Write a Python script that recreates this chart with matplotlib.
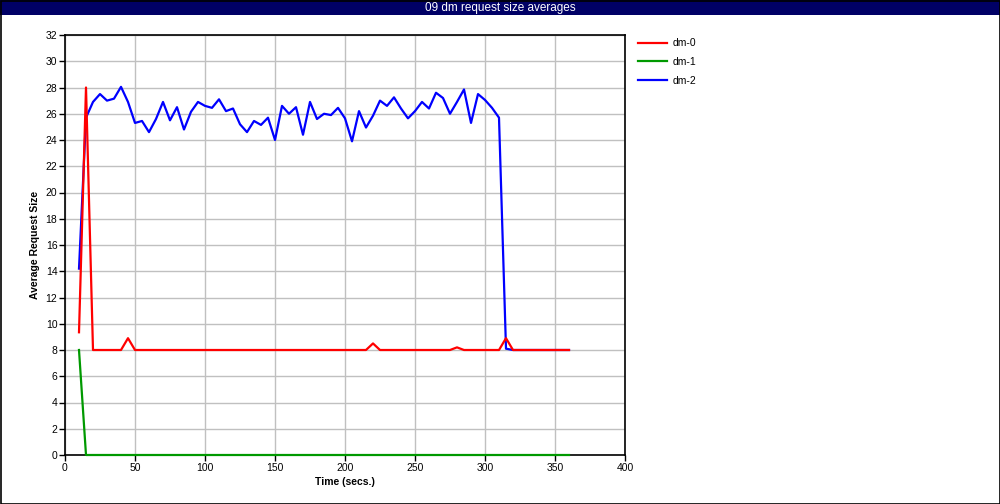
import matplotlib
matplotlib.use('Agg')
import matplotlib.pyplot as plt
from matplotlib.patches import Rectangle
import numpy as np

title = '09 dm request size averages'
names = ['dm-0', 'dm-1', 'dm-2']
colors = ['#ff0000', '#009900', '#0000ff']

# sample times (secs.)
times = np.arange(10, 365, 5)

dm0 = [9.35, 28.0, 8.0, 8.0, 8.0, 8.0, 8.0, 8.9, 8.0, 8.0,
       8.0, 8.0, 8.0, 8.0, 8.0, 8.0, 8.0, 8.0, 8.0, 8.0,
       8.0, 8.0, 8.0, 8.0, 8.0, 8.0, 8.0, 8.0, 8.0, 8.0,
       8.0, 8.0, 8.0, 8.0, 8.0, 8.0, 8.0, 8.0, 8.0, 8.0,
       8.0, 8.0, 8.5, 8.0, 8.0, 8.0, 8.0, 8.0, 8.0, 8.0,
       8.0, 8.0, 8.0, 8.0, 8.2, 8.0, 8.0, 8.0, 8.0, 8.0,
       8.0, 8.9, 8.0, 8.0, 8.0, 8.0, 8.0, 8.0, 8.0, 8.0,
       8.0]
dm1 = [8.0, 0.0, 0.0, 0.0, 0.0, 0.0, 0.0, 0.0, 0.0, 0.0,
       0.0, 0.0, 0.0, 0.0, 0.0, 0.0, 0.0, 0.0, 0.0, 0.0,
       0.0, 0.0, 0.0, 0.0, 0.0, 0.0, 0.0, 0.0, 0.0, 0.0,
       0.0, 0.0, 0.0, 0.0, 0.0, 0.0, 0.0, 0.0, 0.0, 0.0,
       0.0, 0.0, 0.0, 0.0, 0.0, 0.0, 0.0, 0.0, 0.0, 0.0,
       0.0, 0.0, 0.0, 0.0, 0.0, 0.0, 0.0, 0.0, 0.0, 0.0,
       0.0, 0.0, 0.0, 0.0, 0.0, 0.0, 0.0, 0.0, 0.0, 0.0,
       0.0]
dm2 = [14.2, 25.7, 26.9, 27.5, 27.0, 27.15, 28.05, 26.9, 25.3, 25.45,
       24.6, 25.6, 26.9, 25.5, 26.5, 24.8, 26.15, 26.9, 26.6, 26.45,
       27.1, 26.2, 26.4, 25.2, 24.6, 25.45, 25.15, 25.7, 24.0, 26.6,
       26.0, 26.5, 24.4, 26.9, 25.6, 26.0, 25.9, 26.45, 25.65, 23.9,
       26.2, 24.95, 25.85, 27.0, 26.6, 27.25, 26.4, 25.65, 26.2, 26.9,
       26.4, 27.6, 27.2, 26.0, 26.9, 27.85, 25.3, 27.5, 27.05, 26.45,
       25.7, 8.1, 8.0, 8.0, 8.0, 8.0, 8.0, 8.0, 8.0, 8.0,
       8.0]

xticks = np.arange(0, 401, 50)
yticks = np.arange(0, 33, 2)

plt.rcParams['font.family'] = ['Liberation Sans', 'DejaVu Sans']

W, H = 1000, 504
fig = plt.figure(figsize=(W / 100, H / 100), dpi=100)

# title bar and outer frame
fig.patches.append(Rectangle((0, 1 - 15 / H), 1, 15 / H, transform=fig.transFigure,
                             facecolor='#000066', edgecolor='none', zorder=0))
fig.patches.append(Rectangle((0.5 / W, 0.5 / H), 1 - 1 / W, 1 - 1 / H, transform=fig.transFigure,
                             facecolor='none', edgecolor='black', linewidth=1.2, zorder=5))
fig.text(0.5, 1 - 7.5 / H, title, color='white', ha='center', va='center', fontsize=8.5)

ax = fig.add_axes([65 / W, (H - 455) / H, 560 / W, 420 / H])
series = [dm0, dm1, dm2]
zs = [4, 3, 2]
handles = []
for vals, name, c, z in zip(series, names, colors, zs):
    ln, = ax.plot(times, vals, color=c, linewidth=1.6, label=name, zorder=z, clip_on=False)
    handles.append(ln)

ax.set_xlim(0, 400)
ax.set_ylim(0, 32)
ax.set_xticks(xticks)
ax.set_yticks(yticks)
ax.grid(True, color='#c0c0c0', linewidth=1.0)
ax.set_axisbelow(True)
for s in ax.spines.values():
    s.set_linewidth(1.2)
ax.tick_params(labelsize=7.5, length=4, width=1, direction='out', pad=1.5)
ax.set_xlabel('Time (secs.)', fontsize=7.5, fontweight='bold', labelpad=3)
ax.set_ylabel('Average Request Size', fontsize=7.5, fontweight='bold', labelpad=4)

fig.legend(handles=handles, loc='upper left', bbox_to_anchor=(634 / W, 1 - 34 / H),
           frameon=False, fontsize=7.5, handlelength=2.8, handletextpad=0.5,
           labelspacing=0.85, borderaxespad=0)

fig.savefig('out.png', dpi=100)
